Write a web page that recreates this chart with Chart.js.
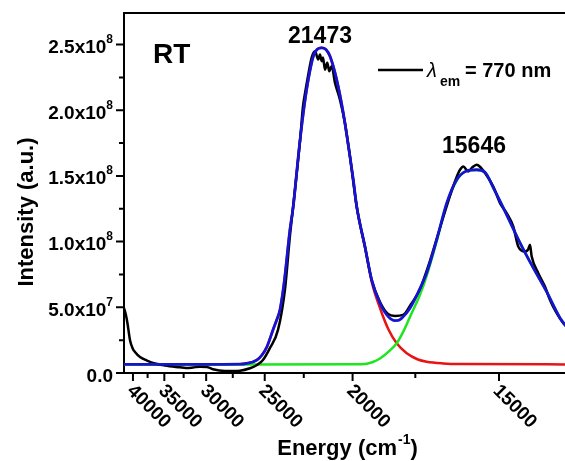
<!DOCTYPE html>
<html>
<head>
<meta charset="utf-8">
<script src="https://cdn.jsdelivr.net/npm/chart.js@4.4.1/dist/chart.umd.min.js"></script>
<style>
  html, body { margin: 0; padding: 0; background: #fff; overflow: hidden; }
  #wrap { width: 565px; height: 461px; }
</style>
</head>
<body>
<div id="wrap"><canvas id="chart" width="565" height="461"></canvas></div>
<script>
// the x axis is linear in wavelength (nm) but labelled in energy (cm-1)
const energyTicks = [40000, 35000, 30000, 25000, 20000, 15000];
const energyMinor = [37500, 32500, 27500, 22500, 17500];
const intensityTicks = [0, 5e7, 1e8, 1.5e8, 2e8, 2.5e8];
const intensityMinor = [2.5e7, 7.5e7, 1.25e8, 1.75e8, 2.25e8];
const intensityBase = ["0.0", "5.0x10", "1.0x10", "1.5x10", "2.0x10", "2.5x10"];
const intensityExp = ["", "7", "8", "8", "8", "8"];
const nmMin = 239.8, nmMax = 741.8;
const intensityMax = 2.74e8;

// measured spectrum (black)
const expNm = [239.8, 242.0, 243.7, 246.6, 249.4, 252.3, 258.0, 265.9, 275.0, 286.4, 303.5, 310.3, 318.3, 326.3, 334.2, 341.1, 354.7, 371.8, 383.2, 391.2, 398.0, 406.0, 415.1, 423.0, 428.7, 434.4, 440.1, 443.5, 445.8, 448.1, 450.4, 453.4, 457.2, 460.9, 462.9, 464.8, 466.3, 468.6, 471.2, 473.5, 476.2, 480.0, 485.6, 491.3, 497.0, 504.7, 514.1, 521.7, 531.2, 540.3, 548.3, 557.4, 565.3, 576.7, 588.1, 599.5, 610.9, 617.7, 622.3, 626.0, 631.7, 635.9, 641.3, 645.0, 650.7, 660.2, 667.8, 675.4, 682.9, 688.6, 696.2, 699.7, 701.9, 703.9, 711.4, 719.0, 724.7, 732.3, 739.9, 742.9];
const expI = [4.95e7, 4.42e7, 3.81e7, 2.52e7, 1.91e7, 1.60e7, 1.22e7, 9.5e6, 7.2e6, 5.7e6, 4.3e6, 3.8e6, 4.2e6, 4.8e6, 4.6e6, 2.8e6, 1.5e6, 1.8e6, 3.6e6, 6.1e6, 9.9e6, 1.91e7, 3.28e7, 6.33e7, 1.044e8, 1.395e8, 1.761e8, 2.027e8, 2.127e8, 2.218e8, 2.302e8, 2.401e8, 2.449e8, 2.386e8, 2.424e8, 2.373e8, 2.401e8, 2.309e8, 2.361e8, 2.297e8, 2.335e8, 2.208e8, 2.081e8, 1.903e8, 1.649e8, 1.265e8, 9.6e7, 7.09e7, 5.41e7, 4.5e7, 4.34e7, 4.42e7, 5.11e7, 6.4e7, 8.54e7, 1.105e8, 1.349e8, 1.479e8, 1.547e8, 1.572e8, 1.534e8, 1.563e8, 1.585e8, 1.57e8, 1.522e8, 1.42e8, 1.293e8, 1.217e8, 1.115e8, 9.63e7, 9.25e7, 9.38e7, 9.76e7, 8.86e7, 7.6e7, 6.58e7, 5.56e7, 4.55e7, 3.79e7, 3.58e7];

// cumulative fit (blue)
const fitNm = [239.8, 326.3, 371.8, 383.2, 386.6, 391.2, 396.9, 402.5, 409.4, 413.6, 417.3, 421.9, 428.7, 432.5, 435.6, 438.2, 443.9, 449.6, 455.3, 459.5, 464.8, 469.7, 474.3, 481.9, 489.4, 497.0, 500.8, 504.7, 514.1, 521.7, 531.2, 540.6, 548.3, 552.0, 557.7, 565.3, 574.4, 584.3, 595.7, 607.1, 618.5, 629.1, 641.3, 650.7, 660.2, 675.4, 690.6, 705.7, 721.0, 736.1, 742.9];
const fitI = [6.55e6, 6.55e6, 6.7e6, 7.85e6, 8.4e6, 9.9e6, 1.37e7, 2.0e7, 3.28e7, 4.04e7, 4.8e7, 6.78e7, 1.09e8, 1.268e8, 1.471e8, 1.649e8, 1.979e8, 2.233e8, 2.411e8, 2.462e8, 2.475e8, 2.462e8, 2.411e8, 2.233e8, 1.979e8, 1.649e8, 1.471e8, 1.268e8, 9.63e7, 7.09e7, 5.31e7, 4.29e7, 3.99e7, 4.0e7, 4.29e7, 4.93e7, 6.1e7, 7.6e7, 1.014e8, 1.293e8, 1.471e8, 1.536e8, 1.547e8, 1.528e8, 1.41e8, 1.204e8, 9.91e7, 8.0e7, 6.17e7, 4.19e7, 3.58e7];

// first gaussian component, 21473 cm-1 (red)
const peak1Nm = [239.8, 371.8, 383.2, 386.6, 391.2, 396.9, 402.5, 409.4, 413.6, 417.3, 421.9, 428.7, 432.5, 435.6, 438.2, 443.9, 449.6, 455.3, 459.5, 464.8, 469.7, 474.3, 481.9, 489.4, 497.0, 500.8, 504.7, 514.1, 522.1, 531.2, 540.6, 550.2, 561.6, 574.4, 584.3, 602.9, 622.3, 742.9];
const peak1I = [6.55e6, 6.7e6, 7.85e6, 8.4e6, 9.9e6, 1.37e7, 2.0e7, 3.28e7, 4.04e7, 4.8e7, 6.78e7, 1.09e8, 1.268e8, 1.471e8, 1.649e8, 1.979e8, 2.233e8, 2.411e8, 2.462e8, 2.475e8, 2.462e8, 2.411e8, 2.233e8, 1.979e8, 1.649e8, 1.471e8, 1.265e8, 9.57e7, 6.86e7, 4.95e7, 3.35e7, 2.26e7, 1.5e7, 1.03e7, 8.6e6, 7.3e6, 6.8e6, 6.55e6];

// second gaussian component, 15646 cm-1 (green)
const peak2Nm = [239.8, 502.7, 516.0, 523.2, 531.2, 542.6, 550.2, 557.7, 565.3, 576.7, 584.3, 595.7, 607.1, 618.5, 629.1, 641.3, 650.7, 660.2, 675.4, 690.6, 705.7, 721.0, 736.1, 742.9];
const peak2I = [6.55e6, 6.6e6, 7.1e6, 8.4e6, 1.1e7, 1.72e7, 2.26e7, 3.15e7, 4.27e7, 5.95e7, 7.39e7, 1.002e8, 1.284e8, 1.465e8, 1.536e8, 1.546e8, 1.528e8, 1.41e8, 1.204e8, 9.91e7, 8.0e7, 6.17e7, 4.19e7, 3.58e7];

function points(xs, ys) {
  return xs.map((v, i) => ({ x: v, y: ys[i] }));
}

const FONT = '"Liberation Sans", Arial, sans-serif';

// axes decoration, tick labels with exponents and the text annotations
const decor = {
  id: 'decor',
  afterDraw(chart) {
    const { ctx, chartArea: a, scales: { x, y } } = chart;
    ctx.save();
    ctx.strokeStyle = '#000';
    ctx.fillStyle = '#000';
    ctx.lineWidth = 2;

    // top frame
    ctx.beginPath();
    ctx.moveTo(a.left - 1, a.top);
    ctx.lineTo(a.right, a.top);
    ctx.stroke();

    // tick marks
    ctx.beginPath();
    energyTicks.forEach(e => {
      const px = x.getPixelForValue(1e7 / e);
      ctx.moveTo(px, a.bottom); ctx.lineTo(px, a.bottom + 8);
    });
    energyMinor.forEach(e => {
      const px = x.getPixelForValue(1e7 / e);
      ctx.moveTo(px, a.bottom); ctx.lineTo(px, a.bottom + 5);
    });
    intensityTicks.forEach(v => {
      const py = y.getPixelForValue(v);
      ctx.moveTo(a.left, py); ctx.lineTo(a.left - 8, py);
    });
    intensityMinor.forEach(v => {
      const py = y.getPixelForValue(v);
      ctx.moveTo(a.left, py); ctx.lineTo(a.left - 5, py);
    });
    ctx.stroke();

    // y tick labels
    intensityTicks.forEach((v, i) => {
      const py = y.getPixelForValue(v);
      ctx.font = 'bold 12px ' + FONT;
      const ew = intensityExp[i] ? ctx.measureText(intensityExp[i]).width : 0;
      ctx.textAlign = 'left';
      ctx.textBaseline = 'alphabetic';
      if (ew) ctx.fillText(intensityExp[i], 113 - ew, py - 1.5);
      ctx.font = 'bold 19px ' + FONT;
      ctx.textAlign = 'right';
      ctx.fillText(intensityBase[i], 113 - ew, py + 8.5);
    });

    // x tick labels, slanted downwards
    ctx.font = 'bold 19px ' + FONT;
    ctx.textAlign = 'left';
    ctx.textBaseline = 'middle';
    energyTicks.forEach(e => {
      const px = x.getPixelForValue(1e7 / e);
      ctx.save();
      ctx.translate(px - 3, a.bottom + 15);
      ctx.rotate(Math.PI / 4);
      ctx.fillText(String(e), 0, 0);
      ctx.restore();
    });

    // axis titles
    ctx.textBaseline = 'alphabetic';
    ctx.save();
    ctx.translate(33, 212);
    ctx.rotate(-Math.PI / 2);
    ctx.textAlign = 'center';
    ctx.font = 'bold 22px ' + FONT;
    ctx.fillText('Intensity (a.u.)', 0, 0);
    ctx.restore();

    ctx.textAlign = 'left';
    ctx.font = 'bold 22px ' + FONT;
    const t1 = 'Energy (cm', t3 = ')';
    const w1 = ctx.measureText(t1).width, w3 = ctx.measureText(t3).width;
    ctx.font = 'bold 14px ' + FONT;
    const t2 = '-1', w2 = ctx.measureText(t2).width;
    let tx = 347 - (w1 + w2 + w3) / 2;
    ctx.font = 'bold 22px ' + FONT;
    ctx.fillText(t1, tx, 455);
    ctx.font = 'bold 14px ' + FONT;
    ctx.fillText(t2, tx + w1 + 1, 444);
    ctx.font = 'bold 22px ' + FONT;
    ctx.fillText(t3, tx + w1 + w2 + 1, 455);

    // annotations
    ctx.font = 'bold 28px ' + FONT;
    ctx.fillText('RT', 153, 63);
    ctx.font = 'bold 23px ' + FONT;
    ctx.textAlign = 'center';
    ctx.fillText('21473', 320, 43);
    ctx.fillText('15646', 474, 153);

    // legend
    ctx.lineWidth = 2.5;
    ctx.beginPath();
    ctx.moveTo(378, 70); ctx.lineTo(423, 70);
    ctx.stroke();
    ctx.textAlign = 'left';
    ctx.font = 'italic 20px ' + FONT;
    ctx.fillText('\u03bb', 427, 77);
    ctx.font = 'bold 14px ' + FONT;
    ctx.fillText('em', 440, 86);
    ctx.font = 'bold 20px ' + FONT;
    ctx.fillText('= 770 nm', 465, 77);
    ctx.restore();
  }
};

new Chart(document.getElementById('chart'), {
  type: 'line',
  data: {
    datasets: [
      { label: 'Cumulative fit', data: points(fitNm, fitI), borderColor: '#1414d2', borderWidth: 2.8 },
      { label: '\u03bbem = 770 nm', data: points(expNm, expI), borderColor: '#000000', borderWidth: 2.5 },
      { label: 'Peak 15646', data: points(peak2Nm, peak2I), borderColor: '#1ee61e', borderWidth: 2.5 },
      { label: 'Peak 21473', data: points(peak1Nm, peak1I), borderColor: '#e61414', borderWidth: 2.5 }
    ]
  },
  options: {
    responsive: false,
    animation: false,
    devicePixelRatio: 1,
    layout: { padding: { top: 13, left: 0, right: 0, bottom: 0 } },
    elements: {
      point: { radius: 0 },
      line: { cubicInterpolationMode: 'monotone', fill: false }
    },
    plugins: { legend: { display: false }, tooltip: { enabled: false } },
    scales: {
      x: {
        type: 'linear', min: nmMin, max: nmMax,
        grid: { display: false },
        border: { display: true, color: '#000', width: 2 },
        ticks: { display: false },
        afterFit(s) { s.height = 88; }
      },
      y: {
        type: 'linear', min: 0, max: intensityMax,
        grid: { display: false },
        border: { display: true, color: '#000', width: 2 },
        ticks: { display: false },
        afterFit(s) { s.width = 124; }
      }
    }
  },
  plugins: [decor]
});
</script>
</body>
</html>
